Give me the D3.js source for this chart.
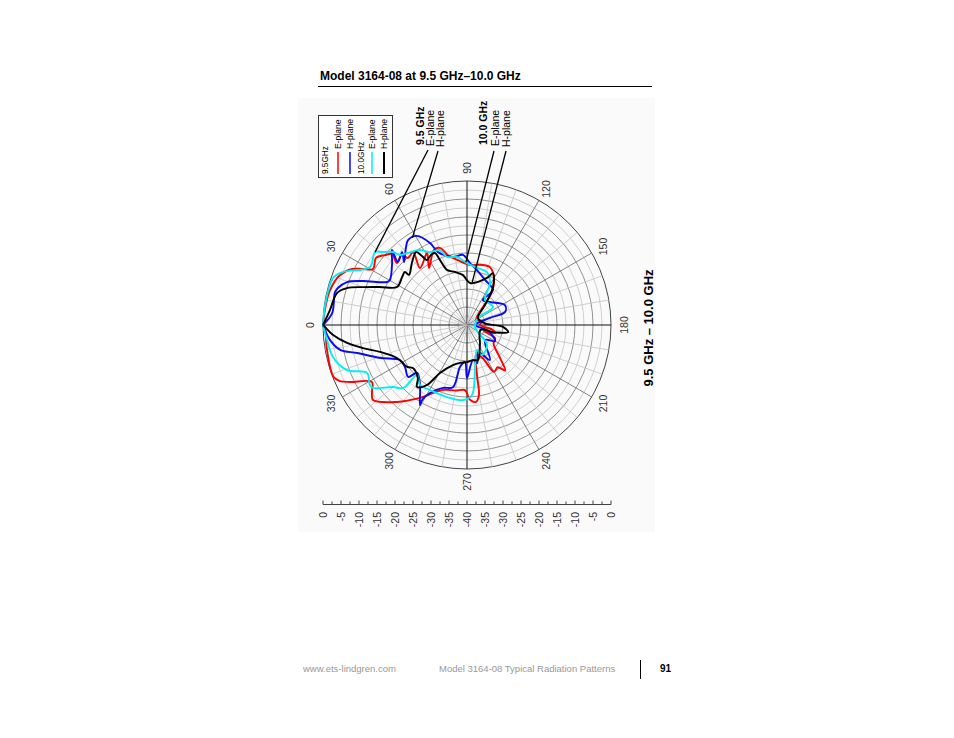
<!DOCTYPE html>
<html><head><meta charset="utf-8">
<script src="https://cdn.jsdelivr.net/npm/d3@7"></script>
<style>body{margin:0;background:#fff}svg{display:block;font-family:"Liberation Sans",Arial,sans-serif}</style>
</head><body><svg id="c" width="954" height="738"></svg>
<script>
// ---- data: [angle in degrees, level in dB] ----
const angleLabels = [0,30,60,90,120,150,180,210,240,270,300,330];
const scaleLabels = ["0","-5","-10","-15","-20","-25","-30","-35","-40","-35","-30","-25","-20","-15","-10","-5","0"];
const seriesNames = ["E-plane","H-plane","E-plane","H-plane"];
const seriesColors = ["#ff0000","#0a0aee","#00f0f0","#000000"];

const e95 = [[0,0],[6,-0.3],[14,-0.7],[21.5,-2.1],[26,-4.5],[28.1,-6.9],[30.8,-9.6],[36.4,-8.6],[40.5,-10.1],[43.4,-11.3],[41.5,-14],[47.5,-13.3],[48.6,-15.2],[53.5,-14.8],[50.5,-19.5],[61,-17.1],[56.3,-21],[66.3,-17.2],[70.7,-17.3],[74.8,-19.9],[82,-21.8],[92.9,-23.3],[102,-22.9],[111.6,-22.7],[121,-25.4],[127,-28.5],[131.6,-33.3],[150,-37],[165,-35.5],[180,-36.4],[190,-33],[196,-31.9],[200,-35],[205,-31.4],[215,-31],[225,-27],[230,-23.5],[234,-25.5],[240,-25],[245,-30],[253,-31.3],[258.7,-25.8],[260.3,-20.3],[263.3,-18.5],[267.7,-19.2],[271.8,-21.9],[280,-21.5],[290.3,-20.8],[302.8,-15.9],[312.3,-11.1],[321.4,-6.6],[324.8,-7.7],[329,-9.2],[334,-3.9],[336.2,-1.4],[338.8,-0.2],[350,-0.5],[358,-0.6],[360,0]];

const h95 = [[0,0],[5,-2.4],[14,-2.2],[16,-2.7],[19.7,-4.6],[22.9,-8.6],[28.3,-14.8],[30.3,-15.2],[39.6,-13],[45,-10.5],[42.4,-14],[48.3,-12.9],[45,-15.3],[55.2,-11.3],[60.7,-11.6],[65.7,-15],[68.3,-18.2],[78.4,-20.7],[86.7,-20.5],[92.8,-22.8],[100.3,-24.5],[111.8,-26.5],[126.6,-27.9],[122.6,-31.8],[152.2,-28.1],[161,-28.8],[163,-33.3],[180,-37.8],[195,-34],[210,-31],[219.8,-33.5],[236.7,-28.4],[247.8,-31.9],[255,-29],[260.3,-30.1],[270,-25.3],[273,-29.7],[279.5,-28.2],[282.7,-22.3],[290.9,-21.3],[298.6,-18.5],[300.9,-15.7],[300.4,-14.2],[308,-18.8],[316.2,-20.8],[318.6,-18.2],[325.9,-19.2],[332.4,-19],[339.2,-14.2],[345.7,-8.5],[348.9,-4.1],[353.8,-1.7],[360,0]];

const e10 = [[0,0],[8,-0.2],[19.3,-0.55],[23.1,-2.5],[30.9,-8.6],[38.4,-7.4],[41,-9.1],[44.6,-11.1],[46.3,-13.1],[50.2,-14],[57.9,-15.4],[63.1,-17.3],[70.2,-17.9],[73.6,-20.3],[81.6,-20.9],[90,-22.8],[100,-23.9],[110.7,-24.3],[118.7,-26.7],[125.8,-31.4],[145.3,-31.2],[147.5,-36.4],[194,-37.7],[225,-32.1],[243.4,-30.7],[248.2,-32.5],[260,-27.3],[265.9,-20.5],[273,-19.1],[285.5,-19.2],[299.6,-19.2],[308,-18.8],[315,-20.4],[315.4,-15.1],[320,-13.2],[326.2,-8.6],[328.3,-8.3],[334.4,-9.2],[339.4,-4.4],[346.6,-1.7],[353.9,-0.9],[360,0]];

const h10 = [[0,0],[6.2,-1.7],[13.8,-2.8],[17.1,-5.1],[20,-9.2],[23.6,-13.6],[28.5,-17.9],[36.4,-17.6],[40.5,-17.3],[40.8,-18.7],[48.9,-16.8],[55.1,-15.3],[56.9,-17.1],[58.4,-18.8],[62.8,-18.1],[66,-18.1],[67.4,-20.4],[70,-23.7],[77.2,-24.9],[85.4,-26.1],[94.1,-28.3],[113,-25.8],[116.6,-23.9],[124.4,-27.2],[132,-32.5],[147.5,-36.4],[175,-35],[183,-30],[189.7,-28.4],[195,-32],[200,-36],[237,-33.4],[252.6,-29.8],[260.3,-30.1],[270,-29.7],[280.4,-29.3],[289.3,-28.2],[299.4,-24.7],[303.7,-20],[308.9,-17.9],[312.8,-19.9],[321.5,-20.8],[325,-19.7],[334.8,-18.5],[342.8,-14.7],[347.5,-10.4],[351.5,-6.3],[355.7,-2.7],[358.8,-0.8],[360,0]];

const series = [e95, h95, e10, h10];

// ---- layout ----
const svg = d3.select("#c");
const cx = 467, cy = 325, R = 144;
const rScale = d3.scaleLinear().domain([-40, 0]).range([0, R]);
const aScale = d3.scaleLinear().domain([0, 360]).range([-Math.PI/2, 1.5*Math.PI]);

// page title
svg.append("text").attr("x",320).attr("y",80).attr("font-size",12).attr("font-weight","bold")
  .attr("fill","#000").text("Model 3164-08 at 9.5 GHz\u201310.0 GHz");
svg.append("line").attr("x1",318).attr("x2",652).attr("y1",86.5).attr("y2",86.5).attr("stroke","#000").attr("stroke-width",1.2);

// plot background
svg.append("rect").attr("x",298).attr("y",98).attr("width",357).attr("height",434).attr("fill","#fafafa");

const g = svg.append("g").attr("transform",`translate(${cx},${cy})`);
const pt = (deg, db) => { const a = aScale(deg), r = rScale(db); return [r*Math.sin(a), -r*Math.cos(a)]; };

// rings
const ringVals = d3.range(-37.5, 0.01, 2.5);
g.selectAll("circle.ring").data(ringVals).join("circle")
  .attr("r", d => rScale(d)).attr("fill","none")
  .attr("stroke", d => d === 0 ? "#444" : (d % 5 === 0 ? "#777" : "#c4c4c4"))
  .attr("stroke-width", d => d === 0 ? 1 : 0.8);
// spokes
const spokeVals = d3.range(0, 360, 10);
g.selectAll("line.spoke").data(spokeVals).join("line")
  .attr("x1",0).attr("y1",0)
  .attr("x2", d => pt(d,0)[0]).attr("y2", d => pt(d,0)[1])
  .attr("stroke", d => d % 90 === 0 ? "#111" : (d % 30 === 0 ? "#666" : "#c4c4c4"))
  .attr("stroke-width", d => d % 90 === 0 ? 1 : 0.8);

// angle labels
g.selectAll("text.ang").data(angleLabels).join("text")
  .attr("transform", d => { const p = pt(d, 0); const s = 157/R; return `translate(${p[0]*s},${p[1]*s}) rotate(-90)`; })
  .attr("text-anchor","middle").attr("dominant-baseline","central")
  .attr("font-size",10.5).attr("fill","#333").text(d => d);

// curves
const line = d3.lineRadial().angle(d => aScale(d[0])).radius(d => rScale(d[1])).curve(d3.curveCatmullRom.alpha(0.5));
g.selectAll("path.series").data(series).join("path")
  .attr("d", line).attr("fill","none")
  .attr("stroke", (d,i) => seriesColors[i]).attr("stroke-width",1.9).attr("stroke-linejoin","round");

// legend
svg.append("rect").attr("x",318.5).attr("y",115.5).attr("width",74).attr("height",62).attr("fill","#fff").attr("stroke","#333").attr("stroke-width",1);
const legendGroups = ["9.5GHz","10.0GHz"];
const legX = [338, 350, 372, 384];
[[325,0],[361,1]].forEach(([x,i]) => {
  svg.append("text").attr("transform",`translate(${x},174) rotate(-90)`).attr("dominant-baseline","central")
    .attr("font-size",8.2).attr("fill","#000").text(legendGroups[i]);
});
seriesNames.forEach((n,i) => {
  svg.append("text").attr("transform",`translate(${legX[i]},149) rotate(-90)`).attr("dominant-baseline","central")
    .attr("font-size",8.6).attr("fill","#000").text(n);
  svg.append("line").attr("x1",legX[i]).attr("x2",legX[i]).attr("y1",152).attr("y2",174)
    .attr("stroke",seriesColors[i]).attr("stroke-width", i===3 ? 2 : 1.5);
});

// callout labels
const callouts = [
  {x:419.5, y:145, t:"9.5 GHz", b:true},
  {x:429.5, y:146, t:"E-plane"},
  {x:439.5, y:147, t:"H-plane"},
  {x:482.5, y:145, t:"10.0 GHz", b:true},
  {x:495, y:146, t:"E-plane"},
  {x:506, y:147, t:"H-plane"}
];
callouts.forEach(c => svg.append("text").attr("transform",`translate(${c.x},${c.y}) rotate(-90)`)
  .attr("dominant-baseline","central").attr("font-size",10.5).attr("font-weight",c.b?"bold":"normal").attr("fill","#000").text(c.t));
// leader lines: from label to a point on the matching curve
const leaderStarts = [[428,150],[438,151],[494,151],[506,151]];
const leaderTargets = [[38.4,-7.4],[58,-11.4],[89,-22.5],[97,-28]];
leaderStarts.forEach((s,i) => {
  const p = pt(leaderTargets[i][0], leaderTargets[i][1]);
  svg.append("line").attr("x1",s[0]).attr("y1",s[1]).attr("x2",cx+p[0]).attr("y2",cy+p[1])
    .attr("stroke","#000").attr("stroke-width",1.3);
});

// side title
svg.append("text").attr("transform","translate(648,328) rotate(-90)").attr("text-anchor","middle")
  .attr("dominant-baseline","central").attr("font-size",13).attr("font-weight","bold").attr("fill","#000")
  .text("9.5 GHz \u2013 10.0 GHz");

// dB scale bar
const bar = d3.scaleLinear().domain([0, 80]).range([cx - R, cx + R]);
const barY = 504.5;
svg.append("line").attr("x1",bar(0)).attr("x2",bar(80)).attr("y1",barY).attr("y2",barY).attr("stroke","#444").attr("stroke-width",1);
svg.selectAll("line.bt").data(d3.range(0, 80.01, 2.5)).join("line")
  .attr("x1", d => bar(d)).attr("x2", d => bar(d))
  .attr("y1", barY).attr("y2", d => barY - (d % 5 === 0 ? 4 : 3))
  .attr("stroke","#444").attr("stroke-width",1);
svg.selectAll("text.bl").data(scaleLabels).join("text")
  .attr("transform", (d,i) => `translate(${bar(i*5)},512) rotate(-90)`)
  .attr("text-anchor","end").attr("dominant-baseline","central")
  .attr("font-size",10.5).attr("fill","#333").text(d => d);

// footer
svg.append("text").attr("x",303).attr("y",672).attr("font-size",9.5).attr("fill","#999").text("www.ets-lindgren.com");
svg.append("text").attr("x",439).attr("y",672).attr("font-size",9.5).attr("fill","#999").text("Model 3164-08 Typical Radiation Patterns");
svg.append("line").attr("x1",640.5).attr("x2",640.5).attr("y1",660).attr("y2",679).attr("stroke","#000").attr("stroke-width",1);
svg.append("text").attr("x",660).attr("y",672).attr("font-size",10).attr("font-weight","bold").attr("fill","#000").text("91");
</script></body></html>
